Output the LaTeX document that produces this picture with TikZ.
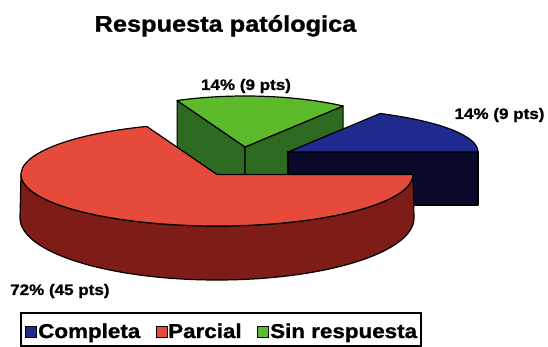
\documentclass[tikz,border=0pt]{standalone}
\usepackage{fontspec}
\newfontfamily\chartfont[FakeStretch=1.12, BoldFeatures={FakeBold=1.2}]{Liberation Sans}
\definecolor{redtop}{HTML}{E64A3A}
\definecolor{redside}{HTML}{7E1D18}
\definecolor{greentop}{HTML}{5DBB2B}
\definecolor{greenside}{HTML}{2E6A1F}
\definecolor{bluetop}{HTML}{1E2A8E}
\definecolor{blueside}{HTML}{0A0A2C}
\tikzset{
  face/.style={draw=black, line width=1.2pt, line join=round},
  lbl/.style={inner sep=0pt, font=\chartfont\bfseries\fontsize{15.2}{17}\selectfont},
  ttl/.style={inner sep=0pt, font=\chartfont\bfseries\fontsize{22.6}{26}\selectfont},
  legtext/.style={inner sep=0pt, anchor=base west, font=\chartfont\bfseries\fontsize{20}{24}\selectfont},
  legsq/.style={draw=black, line width=0.9pt, minimum size=11pt, inner sep=0pt},
}
\begin{document}
\begin{tikzpicture}[x=1pt,y=1pt]
\useasboundingbox (0,0) rectangle (548,347);
% centres
\coordinate (gc) at (245,200);
\coordinate (bc) at (288,195);
\coordinate (rc) at (217,172.5);
% ---- green slice (Sin respuesta) ----
\path (gc) ++(114.3:165 and 51) coordinate (gl);
\path (gc) ++(53.5:165 and 51) coordinate (gr);
\draw[face, fill=greenside] (gc) -- (gl) -- ++(0,-54) -- ++(68,-46) -- cycle;
\draw[face, fill=greenside] (gc) -- (gr) -- ++(0,-54) -- ++(-98,-41) -- cycle;
\draw[face, fill=greentop] (gc) -- (gr) arc[start angle=53.5, end angle=114.3, x radius=165, y radius=51] -- cycle;
% ---- blue slice (Completa) ----
\path (bc) ++(190,0) coordinate (br);
\draw[face, fill=blueside] (bc) -- (br) -- ++(0,-53) -- ++(-190,0) -- cycle;
\draw[face, fill=bluetop] (bc) -- (br) arc[start angle=0, end angle=61, x radius=190, y radius=44] -- cycle;
% ---- red slice (Parcial) ----
\draw[face, fill=redside] (rc) ++(-196,0) arc[start angle=180, end angle=360, x radius=196, y radius=51.5]
  -- (414,129) arc[start angle=0, end angle=-180, x radius=197, y radius=62] -- cycle;
\draw[face, fill=redtop] (rc) -- ++(111:196 and 51.5) arc[start angle=111, end angle=360, x radius=196, y radius=51.5] -- cycle;
% ---- labels ----
\node[ttl, anchor=base] (title) at (225.5,315.3) {Respuesta patólogica};
\node[lbl, anchor=base] (lgreen) at (246,257) {14\% (9 pts)};
\node[lbl, anchor=base] (lblue) at (499.5,228) {14\% (9 pts)};
\node[lbl, anchor=base west] (lred) at (10,52) {72\% (45 pts)};
% ---- legend ----
\draw[line width=1.2pt] (21,34) rectangle (421,1);
\node[legsq, fill=bluetop] (sq1) at (31,15) {};
\node[legtext] (t1) at (38,9) {Completa};
\node[legsq, fill=redtop] (sq2) at (161.5,15) {};
\node[legtext] (t2) at (168,9) {Parcial};
\node[legsq, fill=greentop] (sq3) at (263,15) {};
\node[legtext] (t3) at (270,9) {Sin respuesta};
\end{tikzpicture}
\end{document}
